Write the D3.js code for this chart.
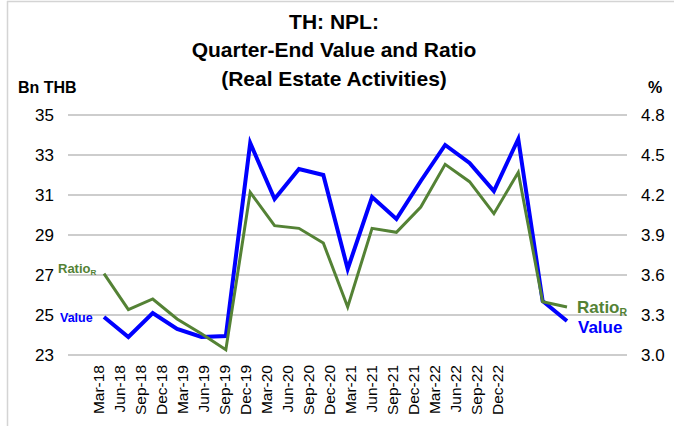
<!DOCTYPE html>
<html>
<head>
<meta charset="utf-8">
<script src="https://cdn.jsdelivr.net/npm/d3@7"></script>
<style>
  body { margin: 0; background: #fff; }
  svg { font-family: "Liberation Sans", Arial, sans-serif; }
</style>
</head>
<body>
<div id="chart"></div>
<script>

// quarters on the x axis
var quarters = ["Mar-18","Jun-18","Sep-18","Dec-18","Mar-19","Jun-19","Sep-19","Dec-19",
                "Mar-20","Jun-20","Sep-20","Dec-20","Mar-21","Jun-21","Sep-21","Dec-21",
                "Mar-22","Jun-22","Sep-22","Dec-22"];

// NPL value, Bn THB (left axis)
var npValue = [24.9, 23.9, 25.1, 24.3, 23.9, 23.95, 33.6, 30.8, 32.3, 32.0,
               27.3, 30.9, 29.8, 31.7, 33.5, 32.6, 31.2, 33.8, 25.7, 24.7];

// NPL ratio, % (right axis)
var npRatio = [3.61, 3.34, 3.42, 3.27, 3.16, 3.04, 4.22, 3.97, 3.95, 3.84,
               3.36, 3.95, 3.92, 4.11, 4.43, 4.30, 4.06, 4.37, 3.40, 3.36];

var leftTicks = [23, 25, 27, 29, 31, 33, 35];
var rightTicks = [3.0, 3.3, 3.6, 3.9, 4.2, 4.5, 4.8];

var W = 674, H = 426;
var plotLeft = 68, plotRight = 627, plotTop = 115, plotBottom = 355;

var svg = d3.select("#chart").append("svg")
    .attr("width", W).attr("height", H);

// frame (only left and top edges show)
svg.append("line").attr("x1", 7.5).attr("x2", 7.5).attr("y1", 1).attr("y2", H)
    .attr("stroke", "#d4d4d4").attr("stroke-width", 1.5);
svg.append("line").attr("x1", 7).attr("x2", W).attr("y1", 1.5).attr("y2", 1.5)
    .attr("stroke", "#d4d4d4").attr("stroke-width", 1.5);

// scales
var xData = d3.scalePoint().domain(quarters).range([104, 567]);
var xLab = d3.scalePoint().domain(quarters).range([98.5, 497]);
var yL = d3.scaleLinear().domain([23, 35]).range([plotBottom, plotTop]);
var yR = d3.scaleLinear().domain([3.0, 4.8]).range([plotBottom, plotTop]);

// gridlines
svg.append("g").selectAll("line")
  .data(leftTicks).enter().append("line")
    .attr("x1", plotLeft).attr("x2", plotRight)
    .attr("y1", d => yL(d)).attr("y2", d => yL(d))
    .attr("stroke", "#bdbdbd").attr("stroke-width", 1.5);

// left axis
var gl = svg.append("g")
    .attr("transform", "translate(54,0)")
    .call(d3.axisLeft(yL).tickValues(leftTicks).tickSize(0).tickPadding(0).tickFormat(d3.format("d")));
gl.select(".domain").remove();
gl.selectAll("text").attr("font-size", 17).attr("fill", "#000")
    .attr("font-family", "Liberation Sans, Arial, sans-serif");

// right axis
var gr = svg.append("g")
    .attr("transform", "translate(641,0)")
    .call(d3.axisRight(yR).tickValues(rightTicks).tickSize(0).tickPadding(0).tickFormat(d3.format(".1f")));
gr.select(".domain").remove();
gr.selectAll("text").attr("font-size", 17).attr("fill", "#000")
    .attr("font-family", "Liberation Sans, Arial, sans-serif");

// x axis labels (rotated)
var gx = svg.append("g")
    .attr("transform", "translate(0,365)")
    .call(d3.axisBottom(xLab).tickSize(0).tickPadding(0));
gx.select(".domain").remove();
gx.selectAll("text")
    .attr("font-size", 15.5).attr("fill", "#000")
    .attr("font-family", "Liberation Sans, Arial, sans-serif")
    .attr("text-anchor", "end")
    .attr("transform", "rotate(-90)")
    .attr("x", 0).attr("y", 0).attr("dy", "0.35em");

// lines
var valueLine = d3.line()
    .x((d, i) => xData(quarters[i]))
    .y(d => yL(d));
var ratioLine = d3.line()
    .x((d, i) => xData(quarters[i]))
    .y(d => yR(d));

svg.append("path").datum(npValue)
    .attr("d", valueLine)
    .attr("fill", "none").attr("stroke", "#0000ff")
    .attr("stroke-width", 4).attr("stroke-linejoin", "miter");

svg.append("path").datum(npRatio)
    .attr("d", ratioLine)
    .attr("fill", "none").attr("stroke", "#548235")
    .attr("stroke-width", 3).attr("stroke-linejoin", "miter");

// series labels
function ratioLabel(x, y, size, anchor) {
  var t = svg.append("text").attr("x", x).attr("y", y)
      .attr("font-size", size).attr("font-weight", "bold")
      .attr("fill", "#548235").attr("text-anchor", anchor);
  t.append("tspan").text("Ratio");
  t.append("tspan").attr("font-size", size * 0.62).attr("dy", size * 0.18).text("R");
}
ratioLabel(58, 273, 13, "start");
svg.append("text").attr("x", 60).attr("y", 322)
    .attr("font-size", 12.5).attr("font-weight", "bold").attr("fill", "#0000ff")
    .text("Value");

ratioLabel(577, 313, 17, "start");
svg.append("text").attr("x", 578).attr("y", 333)
    .attr("font-size", 17).attr("font-weight", "bold").attr("fill", "#0000ff")
    .text("Value");

// title
var title = ["TH: NPL:", "Quarter-End Value and Ratio", "(Real Estate Activities)"];
svg.append("g").selectAll("text")
  .data(title).enter().append("text")
    .attr("x", 334).attr("y", (d, i) => 28.5 + i * 28.5)
    .attr("text-anchor", "middle")
    .attr("font-size", 21).attr("font-weight", "bold")
    .text(d => d);

// axis units
svg.append("text").attr("x", 18).attr("y", 93)
    .attr("font-size", 16).attr("font-weight", "bold").text("Bn THB");
svg.append("text").attr("x", 648).attr("y", 93)
    .attr("font-size", 16).attr("font-weight", "bold").text("%");

</script>
</body>
</html>
